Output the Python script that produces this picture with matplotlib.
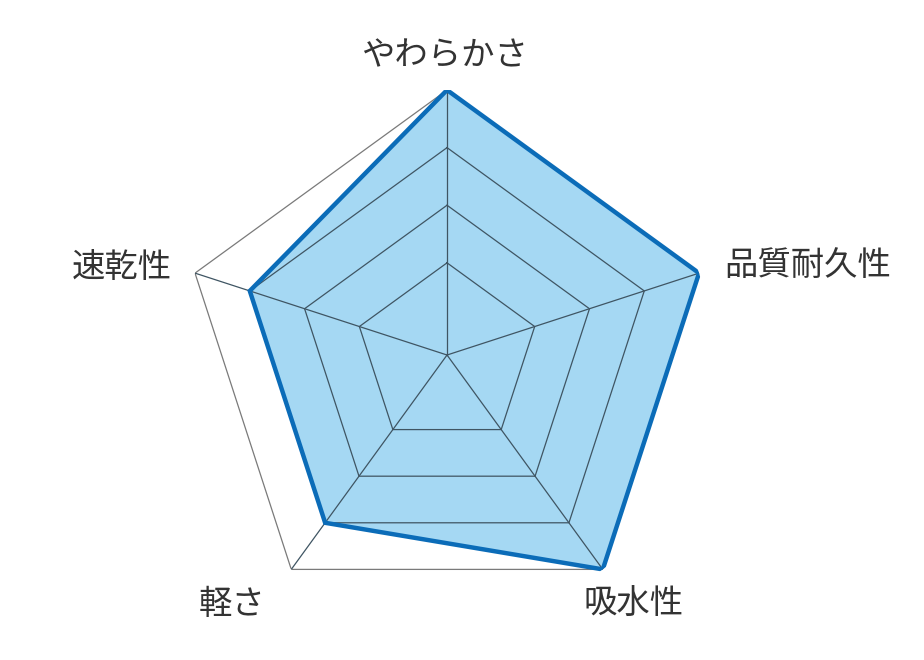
import numpy as np
import matplotlib
matplotlib.use("Agg")
import matplotlib.pyplot as plt

plt.rcParams['font.family'] = ['Noto Sans CJK JP', 'DejaVu Sans']

# data
labels = ["やわらかさ", "品質耐久性", "吸水性", "軽さ", "速乾性"]
values = [5, 5, 5, 4, 4]
levels = [2, 3, 4, 5]
r_min, r_max = 0.4, 5

n = len(labels)
angles = np.pi / 2 - np.arange(n) * 2 * np.pi / n
closed = np.append(angles, angles[0])

fig = plt.figure(figsize=(9.24, 6.6), dpi=100)
ax = fig.add_axes([0.197, 0.0606, 0.5736, 0.803], projection='polar')
ax.set_ylim(r_min, r_max)
ax.set_axis_off()

# filled data area
vals = np.append(values, values[0])
ax.fill(closed, vals, color='#a5d8f3', zorder=1)

# grid rings
for lv in levels:
    col = '#7a7a7a' if lv == r_max else '#3f5563'
    ax.plot(closed, [lv] * (n + 1), color=col, lw=0.9, zorder=2)
for a in angles:
    ax.plot([a, a], [r_min, r_max], color='#3f5563', lw=0.9, zorder=2)

ax.plot(closed, vals, color='#0b6cb8', lw=3.2, zorder=3, solid_joinstyle='miter')

# axis labels, offset (pixels) from the outer vertex
lab_off = [(-3, 34), (25, 8), (31, -35), (-59, -35), (-23, 6)]
lab_ha = ['center', 'left', 'center', 'center', 'right']
for a, lab, off, ha in zip(angles, labels, lab_off, lab_ha):
    ax.annotate(lab, xy=(a, r_max), xytext=off, textcoords='offset pixels',
                ha=ha, va='center', fontsize=24, color='#333333',
                annotation_clip=False)

fig.savefig("out.png", dpi=100)
